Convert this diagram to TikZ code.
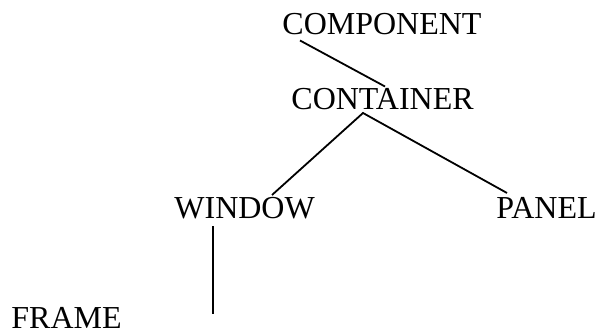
\documentclass[tikz,border=0pt]{standalone}
\usepackage{fontspec}
\setmainfont{Liberation Serif}
\begin{document}
\begin{tikzpicture}[x=0.5pt,y=-0.5pt,
  lbl/.style={anchor=base west,inner sep=0pt,font=\fontsize{16}{19}\selectfont},
  conn/.style={line width=0.9pt}]
\useasboundingbox (0,0) rectangle (597,331);
\node[lbl] (comp) at (282,35) {COMPONENT};
\node[lbl] (cont) at (291,110) {CONTAINER};
\node[lbl] (win) at (174,218) {WINDOW};
\node[lbl] (pan) at (496,218) {PANEL};
\node[lbl] (frame) at (11,328) {FRAME};
\coordinate (c1) at (300,40.5);
\coordinate (c2) at (385,86.5);
\coordinate (top) at (363,113);
\coordinate (wl) at (272,195);
\coordinate (pr) at (507,193);
\coordinate (v1) at (213,226);
\coordinate (v2) at (213,314);
\draw[conn] (c1) -- (c2);
\draw[conn] (wl) -- (top) -- (pr);
\draw[conn] (v1) -- (v2);
\end{tikzpicture}
\end{document}
